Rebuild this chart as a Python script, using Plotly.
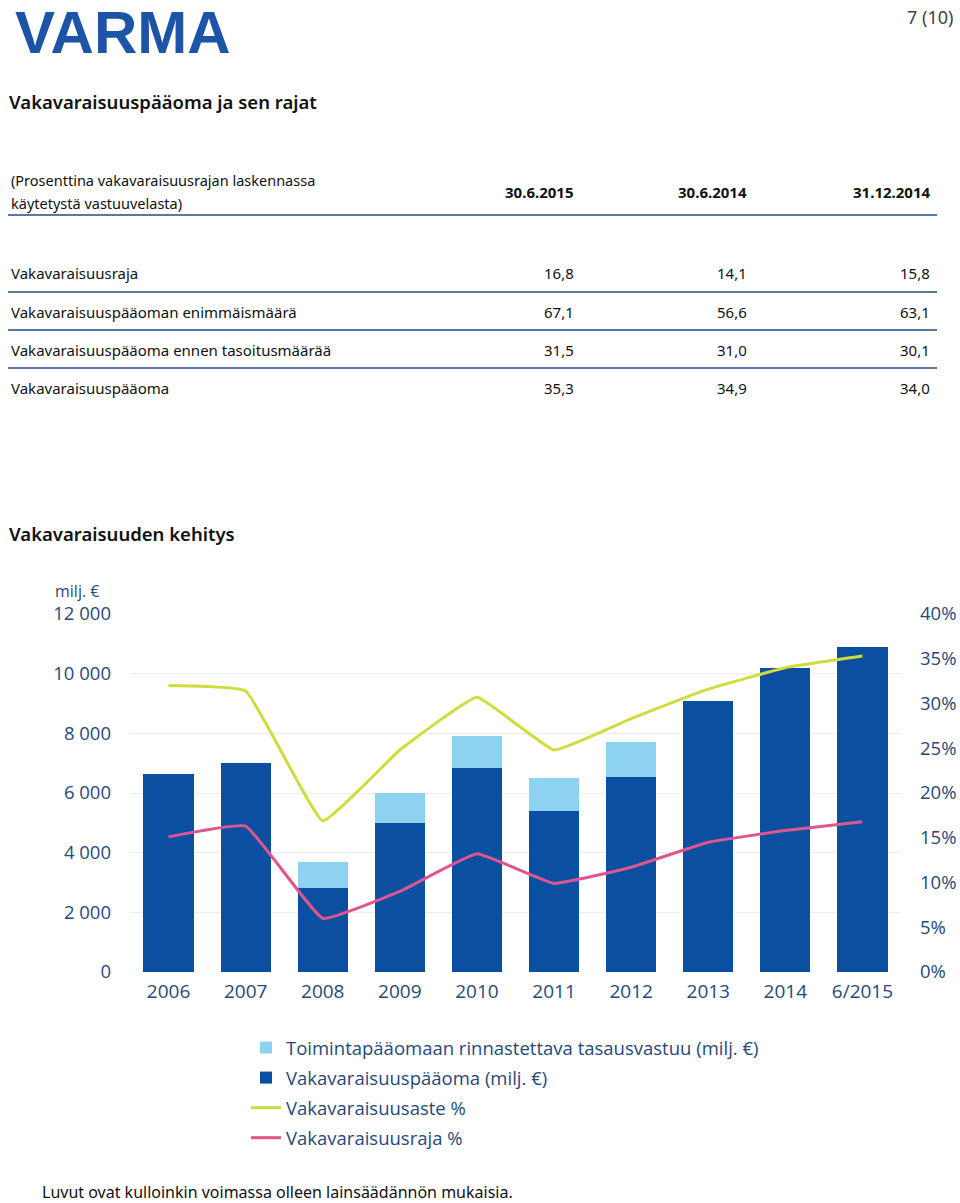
import plotly.graph_objects as go

W, H = 960, 1203

# ---- data ----
years = ["2006", "2007", "2008", "2009", "2010", "2011", "2012", "2013", "2014", "6/2015"]
capital = [6650, 7000, 2800, 5000, 6850, 5400, 6550, 9100, 10200, 10900]
equalisation = [0, 0, 900, 1000, 1050, 1100, 1150, 0, 0, 0]
solvency_ratio = [32.0, 31.4, 16.9, 24.8, 30.7, 24.8, 28.3, 31.6, 34.0, 35.3]
solvency_limit = [15.1, 16.3, 6.0, 9.0, 13.2, 9.9, 11.7, 14.5, 15.8, 16.8]

table_header = ["30.6.2015", "30.6.2014", "31.12.2014"]
table_rows = [
    "Vakavaraisuusraja",
    "Vakavaraisuuspääoman enimmäismäärä",
    "Vakavaraisuuspääoma ennen tasoitusmäärää",
    "Vakavaraisuuspääoma",
]
table_values = [
    ["16,8", "14,1", "15,8"],
    ["67,1", "56,6", "63,1"],
    ["31,5", "31,0", "30,1"],
    ["35,3", "34,9", "34,0"],
]
left_ticks = [0, 2000, 4000, 6000, 8000, 10000, 12000]
right_ticks = [0, 5, 10, 15, 20, 25, 30, 35, 40]
right_labels = ["%d%%" % v for v in right_ticks]

# ---- colours / fonts ----
DARK = "#0b4fa1"
LIGHT = "#8dd2f0"
YELLOW = "#cfdc3c"
PINK = "#e0558f"
AXTXT = "#27497a"
FONT = "Open Sans"
TFONT = "Noto Sans"


def py(y):
    return 1 - y / H


def px(x):
    return x / W


fig = go.Figure()

fig.add_trace(go.Bar(
    x=years, y=capital, name="Vakavaraisuuspääoma (milj. €)",
    marker=dict(color=DARK, line=dict(width=0)), width=0.65, legendrank=2,
    legendgroup="b",
))
fig.add_trace(go.Bar(
    x=years, y=equalisation, name="Toimintapääomaan rinnastettava tasausvastuu (milj. €)",
    marker=dict(color=LIGHT, line=dict(width=0)), width=0.65, legendrank=1,
    legendgroup="a",
))
fig.add_trace(go.Scatter(
    x=years, y=solvency_ratio, name="Vakavaraisuusaste %", yaxis="y2",
    mode="lines", line=dict(color=YELLOW, width=3, shape="spline", smoothing=0.3),
    legendrank=3, legendgroup="c",
))
fig.add_trace(go.Scatter(
    x=years, y=solvency_limit, name="Vakavaraisuusraja %", yaxis="y2",
    mode="lines", line=dict(color=PINK, width=3, shape="spline", smoothing=0.3),
    legendrank=4, legendgroup="d",
))

x0, x1 = 130, 901
ytop, ybot = 614, 972

fig.update_layout(
    width=W, height=H, autosize=False,
    margin=dict(l=0, r=0, t=0, b=0, pad=0, autoexpand=False),
    paper_bgcolor="white", plot_bgcolor="white",
    barmode="stack", bargap=0.35,
    separators=", ",
    font=dict(family=FONT, color=AXTXT),
    xaxis=dict(
        domain=[px(x0), px(x1)], showgrid=False, zeroline=False, showline=False,
        tickfont=dict(size=19, color=AXTXT, family=FONT), ticklabelstandoff=6,
        anchor="y", automargin=False,
    ),
    yaxis=dict(
        domain=[py(ybot), py(ytop)], range=[0, 12000], tickvals=left_ticks,
        tickformat=",d", showgrid=True, gridcolor="#ececec", gridwidth=1,
        zeroline=False, showline=False, automargin=False,
        tickfont=dict(size=18.5, color=AXTXT, family=FONT), ticklabelstandoff=18,
    ),
    yaxis2=dict(
        overlaying="y", side="right", range=[0, 40], tickvals=right_ticks,
        ticktext=right_labels, showgrid=False, zeroline=False, showline=False,
        automargin=False,
        tickfont=dict(size=18.5, color=AXTXT, family=FONT), ticklabelstandoff=18,
    ),
    legend=dict(
        x=px(246), y=py(1029), xanchor="left", yanchor="top",
        font=dict(size=18.5, color=AXTXT, family=FONT),
        traceorder="grouped", itemwidth=30, tracegroupgap=3,
        bgcolor="rgba(0,0,0,0)",
    ),
    showlegend=True,
)

ann = []
shapes = []

# logo
ann.append(dict(x=px(13), y=py(33), xref="paper", yref="paper", text="<b>VARMA</b>",
                showarrow=False, xanchor="left", yanchor="middle",
                font=dict(family="Liberation Sans", size=60, color="#1c54a8")))
# page number
ann.append(dict(x=px(955), y=py(17), xref="paper", yref="paper", text="7 (10)",
                showarrow=False, xanchor="right", yanchor="middle",
                font=dict(family=TFONT, size=18, color="#444444")))
# titles
ann.append(dict(x=px(7), y=py(101), xref="paper", yref="paper", text="Vakavaraisuuspääoma ja sen rajat",
                showarrow=False, xanchor="left", yanchor="middle",
                font=dict(family=TFONT, size=18.5, color="#111111", weight=600)))
ann.append(dict(x=px(7), y=py(533), xref="paper", yref="paper", text="Vakavaraisuuden kehitys",
                showarrow=False, xanchor="left", yanchor="middle",
                font=dict(family=TFONT, size=18.5, color="#111111", weight=600)))
# table header
for ty, t in [(180, "(Prosenttina vakavaraisuusrajan laskennassa"), (203, "käytetystä vastuuvelasta)")]:
    ann.append(dict(x=px(9), y=py(ty), xref="paper", yref="paper", text=t,
                    showarrow=False, xanchor="left", yanchor="middle", align="left",
                    font=dict(family=TFONT, size=14.5, color="#111111")))
col_x = [576, 749, 932]
for cx, h in zip(col_x, table_header):
    ann.append(dict(x=px(cx), y=py(192), xref="paper", yref="paper", text="<b>%s</b>" % h,
                    showarrow=False, xanchor="right", yanchor="middle",
                    font=dict(family=TFONT, size=15, color="#111111")))
row_y = [273, 312, 350, 388]
for ry, label, vals in zip(row_y, table_rows, table_values):
    ann.append(dict(x=px(9), y=py(ry), xref="paper", yref="paper", text=label,
                    showarrow=False, xanchor="left", yanchor="middle",
                    font=dict(family=TFONT, size=15, color="#111111")))
    for cx, v in zip(col_x, vals):
        ann.append(dict(x=px(cx), y=py(ry), xref="paper", yref="paper", text=v,
                        showarrow=False, xanchor="right", yanchor="middle",
                        font=dict(family=TFONT, size=15, color="#111111")))
for ly in [215, 292, 330, 368]:
    shapes.append(dict(type="line", xref="paper", yref="paper",
                       x0=px(8), x1=px(937), y0=py(ly), y1=py(ly),
                       line=dict(color="#5679a6", width=2)))
# axis unit label
ann.append(dict(x=px(53), y=py(591), xref="paper", yref="paper", text="milj. €",
                showarrow=False, xanchor="left", yanchor="middle",
                font=dict(family=FONT, size=16, color=AXTXT)))
# footnote
ann.append(dict(x=px(40), y=py(1192), xref="paper", yref="paper",
                text="Luvut ovat kulloinkin voimassa olleen lainsäädännön mukaisia.",
                showarrow=False, xanchor="left", yanchor="middle",
                font=dict(family=TFONT, size=16, color="#111111")))

fig.update_layout(annotations=ann, shapes=shapes)

fig.write_html(
    "out.html",
    config={"displayModeBar": False, "responsive": False},
    default_width="960px", default_height="1203px",
    post_script="document.body.style.margin='0';document.body.style.overflow='hidden';",
)
